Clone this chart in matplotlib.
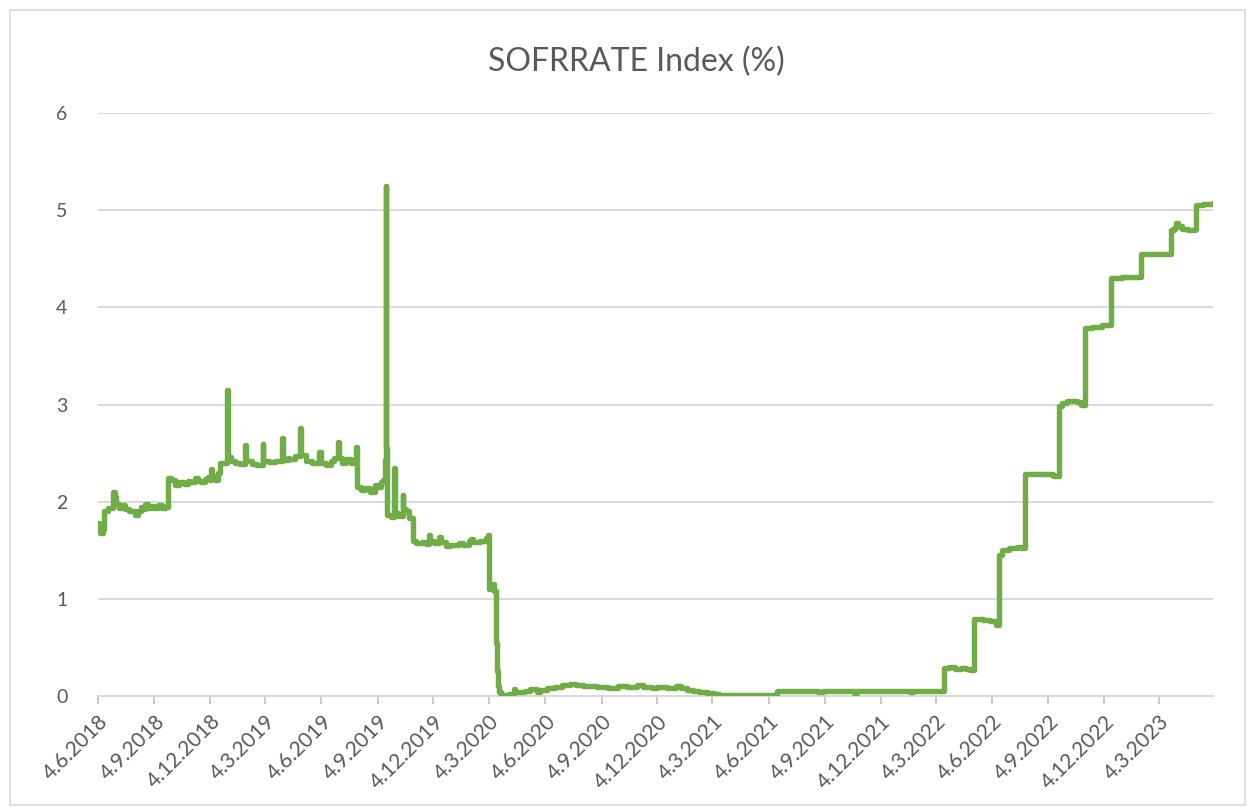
import matplotlib
matplotlib.use("Agg")
import matplotlib.pyplot as plt
from matplotlib.patches import Rectangle
import pandas as pd

plt.rcParams['font.family'] = ['Lato', 'DejaVu Sans']

# SOFR breakpoints (date, rate %), drawn as a step line
dates = [
    "2018-06-04", "2018-06-06", "2018-06-08", "2018-06-12", "2018-06-14", "2018-06-20",
    "2018-06-29", "2018-07-02", "2018-07-03", "2018-07-09", "2018-07-13", "2018-07-18",
    "2018-07-24", "2018-08-03", "2018-08-09", "2018-08-14", "2018-08-17", "2018-08-20",
    "2018-08-24", "2018-08-31", "2018-09-04", "2018-09-10", "2018-09-17", "2018-09-21",
    "2018-09-27", "2018-10-01", "2018-10-08", "2018-10-15", "2018-10-22", "2018-10-29",
    "2018-11-01", "2018-11-09", "2018-11-14", "2018-11-20", "2018-11-26", "2018-12-01",
    "2018-12-04", "2018-12-06", "2018-12-07", "2018-12-12", "2018-12-17", "2018-12-20",
    "2018-12-31", "2019-01-02", "2019-01-07", "2019-01-14", "2019-01-22", "2019-01-31",
    "2019-02-01", "2019-02-11", "2019-02-19", "2019-02-28", "2019-03-01", "2019-03-11",
    "2019-03-20", "2019-04-01", "2019-04-02", "2019-04-10", "2019-04-12", "2019-04-22",
    "2019-04-30", "2019-05-01", "2019-05-10", "2019-05-20", "2019-05-31", "2019-06-03",
    "2019-06-12", "2019-06-20", "2019-06-24", "2019-07-01", "2019-07-02", "2019-07-08",
    "2019-07-15", "2019-07-22", "2019-07-31", "2019-08-01", "2019-08-08", "2019-08-15",
    "2019-08-22", "2019-08-30", "2019-09-03", "2019-09-09", "2019-09-13", "2019-09-16",
    "2019-09-17", "2019-09-18", "2019-09-19", "2019-09-20", "2019-09-25", "2019-09-30",
    "2019-10-02", "2019-10-08", "2019-10-15", "2019-10-16", "2019-10-21", "2019-10-25",
    "2019-10-31", "2019-11-05", "2019-11-15", "2019-11-22", "2019-11-27", "2019-11-29",
    "2019-12-05", "2019-12-13", "2019-12-16", "2019-12-24", "2019-12-31", "2020-01-15",
    "2020-01-22", "2020-01-31", "2020-02-03", "2020-02-07", "2020-02-18", "2020-02-28",
    "2020-03-02", "2020-03-04", "2020-03-10", "2020-03-12", "2020-03-16", "2020-03-17",
    "2020-03-18", "2020-03-20", "2020-03-24", "2020-04-06", "2020-04-13", "2020-04-16",
    "2020-05-01", "2020-05-10", "2020-05-21", "2020-05-26", "2020-06-06", "2020-06-20",
    "2020-07-01", "2020-07-14", "2020-07-24", "2020-08-05", "2020-08-27", "2020-09-15",
    "2020-10-01", "2020-10-15", "2020-10-31", "2020-11-10", "2020-11-25", "2020-12-03",
    "2020-12-20", "2021-01-04", "2021-01-12", "2021-01-21", "2021-02-01", "2021-02-10",
    "2021-02-23", "2021-03-06", "2021-03-15", "2021-06-17", "2021-08-23", "2021-09-01",
    "2021-10-22", "2021-10-26", "2022-01-21", "2022-01-25", "2022-03-17", "2022-03-25",
    "2022-04-04", "2022-04-14", "2022-04-22", "2022-04-29", "2022-05-05", "2022-05-20",
    "2022-06-01", "2022-06-10", "2022-06-16", "2022-06-21", "2022-07-01", "2022-07-15",
    "2022-07-22", "2022-07-28", "2022-08-10", "2022-08-25", "2022-09-12", "2022-09-22",
    "2022-09-27", "2022-10-05", "2022-10-20", "2022-10-28", "2022-11-03", "2022-11-15",
    "2022-12-01", "2022-12-15", "2023-01-03", "2023-02-02", "2023-03-10", "2023-03-23",
    "2023-03-28", "2023-03-31", "2023-04-03", "2023-04-10", "2023-04-20", "2023-05-01",
    "2023-05-04", "2023-05-15", "2023-05-31",
]
rates = [
    1.78, 1.72, 1.68, 1.72, 1.90, 1.93,
    2.10, 2.05, 1.98, 1.94, 1.97, 1.92,
    1.90, 1.86, 1.90, 1.95, 1.92, 1.98,
    1.94, 1.96, 1.93, 1.97, 1.93, 1.95,
    2.24, 2.22, 2.17, 2.20, 2.18, 2.21,
    2.20, 2.24, 2.21, 2.20, 2.23, 2.25,
    2.22, 2.34, 2.26, 2.22, 2.30, 2.40,
    3.15, 2.46, 2.42, 2.40, 2.39, 2.58,
    2.42, 2.39, 2.38, 2.59, 2.42, 2.41,
    2.42, 2.66, 2.43, 2.45, 2.44, 2.47,
    2.76, 2.48, 2.42, 2.40, 2.51, 2.40,
    2.38, 2.42, 2.45, 2.61, 2.45, 2.40,
    2.44, 2.40, 2.56, 2.15, 2.12, 2.14,
    2.10, 2.17, 2.15, 2.20, 2.22, 2.43,
    5.25, 2.55, 1.95, 1.86, 1.84, 2.35,
    1.88, 1.85, 2.07, 1.92, 1.90, 1.83,
    1.60, 1.57, 1.58, 1.56, 1.66, 1.60,
    1.57, 1.64, 1.58, 1.54, 1.55, 1.57,
    1.55, 1.60, 1.62, 1.59, 1.60, 1.63,
    1.66, 1.10, 1.15, 1.08, 0.55, 0.26,
    0.10, 0.04, 0.01, 0.02, 0.07, 0.04,
    0.05, 0.07, 0.04, 0.06, 0.08, 0.09,
    0.11, 0.12, 0.11, 0.10, 0.09, 0.08,
    0.10, 0.09, 0.11, 0.09, 0.08, 0.09,
    0.08, 0.10, 0.08, 0.06, 0.05, 0.04,
    0.03, 0.02, 0.01, 0.05, 0.04, 0.05,
    0.03, 0.05, 0.04, 0.05, 0.29, 0.30,
    0.28, 0.29, 0.28, 0.27, 0.79, 0.78,
    0.77, 0.73, 1.45, 1.50, 1.52, 1.53,
    1.52, 2.29, 2.28, 2.29, 2.26, 2.98,
    3.02, 3.04, 3.03, 3.00, 3.79, 3.80,
    3.82, 4.30, 4.31, 4.55, 4.55, 4.80,
    4.82, 4.87, 4.84, 4.81, 4.80, 4.81,
    5.05, 5.06, 5.07,
]
tick_dates = ["2018-06-04", "2018-09-04", "2018-12-04", "2019-03-04", "2019-06-04",
              "2019-09-04", "2019-12-04", "2020-03-04", "2020-06-04", "2020-09-04",
              "2020-12-04", "2021-03-04", "2021-06-04", "2021-09-04", "2021-12-04",
              "2022-03-04", "2022-06-04", "2022-09-04", "2022-12-04", "2023-03-04"]

x = pd.to_datetime(dates)
ticks = pd.to_datetime(tick_dates)
grey = "#595959"

fig = plt.figure(figsize=(12.5, 8.1), dpi=100)
fig.patches.append(Rectangle((0.008, 0.006), 0.988, 0.982, transform=fig.transFigure,
                             fill=False, edgecolor="#d9d9d9", linewidth=1.2))
ax = fig.add_axes([0.0784, 0.1407, 0.892, 0.7198])

ax.plot(x, rates, drawstyle="steps-post", color="#70AD47", linewidth=3.9,
        solid_joinstyle="round", solid_capstyle="round", zorder=3)

ax.set_ylim(0, 6)
ax.set_yticks(range(0, 7))
ax.set_xlim(x[0], pd.Timestamp("2023-05-31"))
ax.grid(axis="y", color="#d9d9d9", linewidth=1.4)
ax.set_axisbelow(True)
for s in ["top", "right", "left"]:
    ax.spines[s].set_visible(False)
ax.spines["bottom"].set_color("#d9d9d9")
ax.spines["bottom"].set_linewidth(1.4)

ax.set_xticks(ticks)
ax.set_xticklabels([f"{d.day}.{d.month}.{d.year}" for d in ticks], rotation=45,
                   ha="right", rotation_mode="anchor")
ax.tick_params(axis="x", colors="#bfbfbf", length=6, width=1.2, labelcolor=grey,
               labelsize=15, pad=5)
ax.tick_params(axis="y", length=0, labelcolor=grey, labelsize=14, pad=22)

fig.text(0.509, 0.923, "SOFRRATE Index (%)", color=grey, fontsize=23,
         ha="center", va="center")

fig.savefig("out.png", dpi=100)
